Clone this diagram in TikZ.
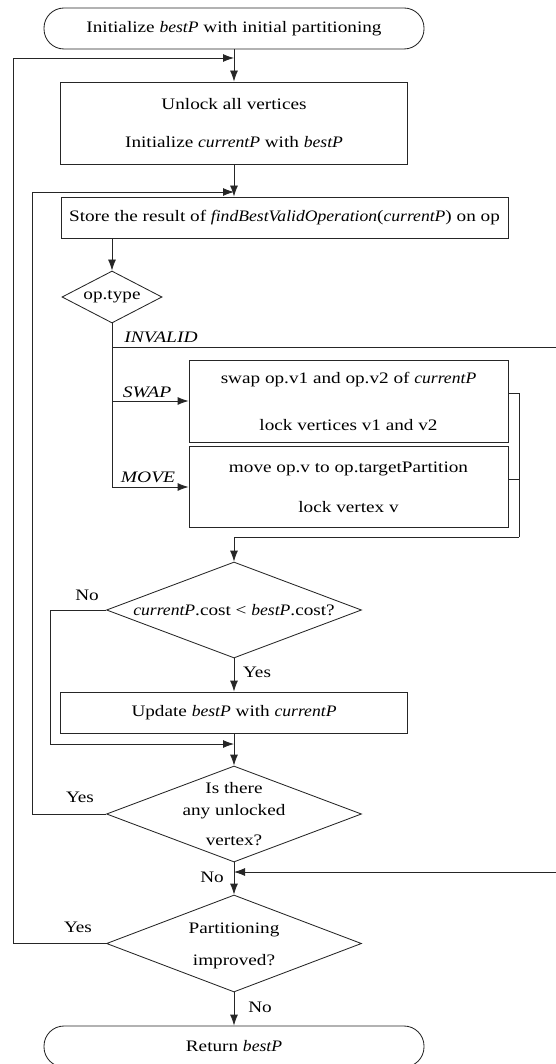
\documentclass[tikz,border=0pt]{standalone}
\usepackage{fontspec}
\setmainfont{Liberation Serif}[FakeStretch=1.2, ItalicFeatures={FakeStretch=1.1}]
\newfontfamily\lblfont{Liberation Serif}[FakeStretch=1.2, ItalicFeatures={FakeStretch=1.22}]
\usetikzlibrary{arrows.meta,shapes.geometric,calc}
\begin{document}
\begin{tikzpicture}[x=1pt,y=-1pt,
  font=\fontsize{16}{19}\selectfont,
  line/.style={draw=black!85, line width=0.85pt},
  arr/.style={line, -{Latex[length=11pt,width=8pt]}},
  term/.style={draw=black!85, line width=0.85pt, rectangle, rounded corners=20pt, minimum width=380pt, minimum height=41pt, inner sep=0pt},
  proc/.style={draw=black!85, line width=0.85pt, rectangle, inner sep=0pt, align=center},
  dec/.style={draw=black!85, line width=0.85pt, diamond, inner sep=0pt},
  txt/.style={inner sep=0pt, align=center},
  lbl/.style={inner sep=0pt},
  caselbl/.style={inner sep=0pt, font=\fontsize{16}{19}\lblfont\itshape},
]
\useasboundingbox (0,0) rectangle (556,1064);

% nodes
\node[term] (start) at (234,28.5) {Initialize \textit{bestP} with initial partitioning};
\node[proc, minimum width=347pt, minimum height=82pt] (b1) at (234,123)
  {Unlock all vertices\\[19pt]Initialize \textit{currentP} with \textit{bestP}};
\node[proc, minimum width=447pt, minimum height=41pt] (b2) at (284.5,217.5)
  {Store the result of \textit{findBestValidOperation}(\textit{currentP}) on op};
\node[dec, minimum width=100pt, minimum height=52pt] (d1) at (112,297) {};
\node[txt] at (d1.center) {op.type};
\node[proc, minimum width=319pt, minimum height=82pt] (swap) at (348.5,401)
  {swap op.v1 and op.v2 of \textit{currentP}\\[28pt]lock vertices v1 and v2};
\node[proc, minimum width=319pt, minimum height=81pt] (move) at (348.5,487)
  {move op.v to op.targetPartition\\[21pt]lock vertex v};
\node[dec, minimum width=255pt, minimum height=96pt] (d2) at (234,610) {};
\node[txt] at (d2.center) {\textit{currentP}.cost \textless{} \textit{bestP}.cost?};
\node[proc, minimum width=347pt, minimum height=41pt] (upd) at (234,712.5)
  {Update \textit{bestP} with \textit{currentP}};
\node[dec, minimum width=255pt, minimum height=96pt] (d3) at (234,814) {};
\node[txt] at (d3.center) {Is there\\[3pt]any unlocked\\[11pt]vertex?};
\node[dec, minimum width=255pt, minimum height=97pt] (d4) at (234,943.5) {};
\node[txt] at (234,946) {Partitioning\\[13pt]improved?};
\node[term] (end) at (234,1046.5) {Return \textit{bestP}};

% helper coordinates
\coordinate (m1) at (234,58);
\coordinate (m2) at (234,192);
\coordinate (m4) at (234,744);
\coordinate (m5) at (234,872);
\coordinate (r1) at (519,537);
\coordinate (inv) at (112,347);
\coordinate (rc) at (556,347);
\coordinate (l1) at (13,0);
\coordinate (l2) at (32,0);
\coordinate (l3) at (50,0);

% connectors
\draw[arr] (start.south) -- (b1.north);
\draw[arr] (b1.south) -- (b2.north -| b1.south);
\draw[arr] (b2.south -| d1.north) -- (d1.north);
\draw[arr] (d1.south) |- (move.west);
\draw[arr] (d1.south |- swap.west) -- (swap.west);
\draw[arr] (inv) -- (rc) |- (m5);
\draw[line] ([yshift=8pt]swap.east) -| (r1);
\draw[line] ([yshift=8pt]move.east) -- ([yshift=8pt]move.east -| r1);
\draw[arr] (r1) -| (d2.north);
\draw[arr] (d2.south) -- (upd.north);
\draw[arr] (d2.west) -- (d2.west -| l3) |- (m4);
\draw[arr] (upd.south) -- (d3.north);
\draw[arr] (d3.west) -- (d3.west -| l2) |- (m2);
\draw[arr] (d3.south) -- (d4.north);
\draw[arr] (d4.west) -- (d4.west -| l1) |- (m1);
\draw[arr] (d4.south) -- (end.north);

% labels
\node[caselbl] at (161,337) {INVALID};
\node[caselbl] at (147,392) {SWAP};
\node[caselbl] at (148,477) {MOVE};
\node[lbl] at (87,595) {No};
\node[lbl] at (257,672) {Yes};
\node[lbl] at (80,797) {Yes};
\node[lbl] at (212,877) {No};
\node[lbl] at (78,927) {Yes};
\node[lbl] at (260,1007) {No};
\end{tikzpicture}
\end{document}
